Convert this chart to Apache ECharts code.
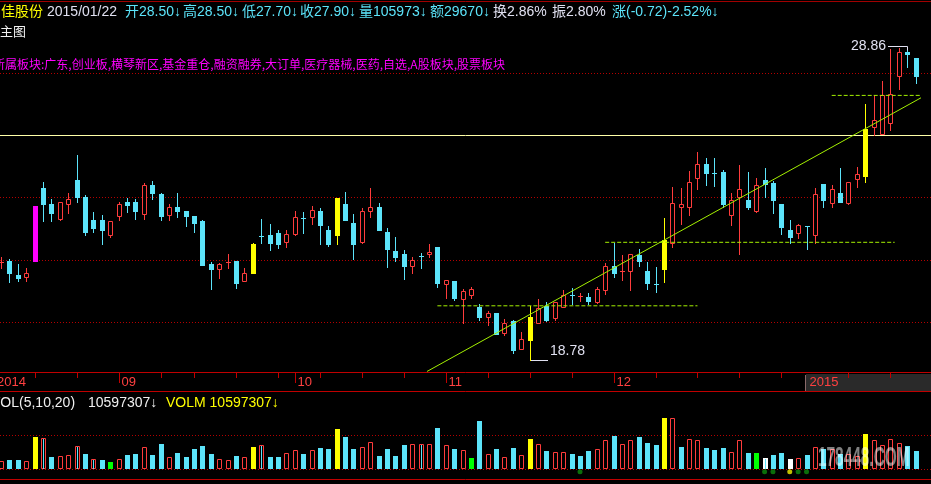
<!DOCTYPE html>
<html><head><meta charset="utf-8">
<script src="https://cdn.jsdelivr.net/npm/echarts/dist/echarts.min.js"></script>
<style>html,body{margin:0;padding:0;background:#000;overflow:hidden}#c{width:931px;height:484px}</style>
</head><body><div id="c"></div>
<script>
// ---------------- data ----------------
const dates = [
'2014-08-12','2014-08-13','2014-08-14','2014-08-15','2014-08-18','2014-08-19','2014-08-20','2014-08-21','2014-08-22','2014-08-25',
'2014-08-26','2014-08-27','2014-08-28','2014-08-29','2014-09-01','2014-09-02','2014-09-03','2014-09-04','2014-09-05','2014-09-09',
'2014-09-10','2014-09-11','2014-09-12','2014-09-15','2014-09-16','2014-09-17','2014-09-18','2014-09-19','2014-09-22','2014-09-23',
'2014-09-24','2014-09-25','2014-09-26','2014-09-29','2014-09-30','2014-10-08','2014-10-09','2014-10-10','2014-10-13','2014-10-14',
'2014-10-15','2014-10-16','2014-10-17','2014-10-20','2014-10-21','2014-10-22','2014-10-23','2014-10-24','2014-10-27','2014-10-28',
'2014-10-29','2014-10-30','2014-10-31','2014-11-03','2014-11-04','2014-11-05','2014-11-06','2014-11-07','2014-11-10','2014-11-11',
'2014-11-12','2014-11-13','2014-11-14','2014-11-17','2014-11-18','2014-11-19','2014-11-20','2014-11-21','2014-11-24','2014-11-25',
'2014-11-26','2014-11-27','2014-11-28','2014-12-01','2014-12-02','2014-12-03','2014-12-04','2014-12-05','2014-12-08','2014-12-09',
'2014-12-10','2014-12-11','2014-12-12','2014-12-15','2014-12-16','2014-12-17','2014-12-18','2014-12-19','2014-12-22','2014-12-23',
'2014-12-24','2014-12-25','2014-12-26','2014-12-29','2014-12-30','2014-12-31','2015-01-05','2015-01-06','2015-01-07','2015-01-08',
'2015-01-09','2015-01-12','2015-01-13','2015-01-14','2015-01-15','2015-01-16','2015-01-19','2015-01-20','2015-01-21','2015-01-22'];

const opens = [21.90,21.98,21.53,21.44,21.98,24.30,23.79,23.33,23.79,24.56,
24.01,23.30,23.30,22.82,23.43,23.88,23.88,23.47,24.40,24.11,
23.46,23.72,23.59,23.40,23.24,21.88,21.72,21.93,21.98,21.33,
21.59,22.77,22.79,22.88,22.59,22.85,23.34,23.37,23.56,22.98,
22.79,23.79,23.20,22.59,23.59,23.69,22.91,22.30,22.20,21.82,
22.14,22.20,22.43,21.24,21.33,20.75,20.88,20.50,20.17,20.30,
19.66,20.04,19.14,19.43,19.98,20.53,20.14,20.50,20.88,20.81,
20.82,20.66,21.04,21.82,21.62,21.66,22.17,21.66,21.24,21.72,
22.56,23.69,23.72,24.63,25.08,24.79,24.82,23.46,24.01,23.92,
23.59,24.56,24.46,23.79,22.98,22.88,23.08,22.79,24.43,23.82,
24.14,23.82,24.59,24.69,26.28,26.05,26.40,27.92,28.70,28.50];

const closes = [21.93,21.57,21.41,21.59,23.75,23.79,23.50,23.85,23.95,24.04,
22.91,23.04,22.95,23.27,23.79,23.77,23.59,24.40,24.14,23.43,
23.69,23.59,23.43,23.20,21.85,21.72,21.88,21.95,21.27,21.59,
22.53,22.75,22.56,22.53,22.85,23.37,23.33,23.62,23.14,22.50,
23.98,23.30,22.53,23.59,23.69,22.98,22.37,22.11,21.82,22.01,
22.13,22.27,21.27,21.37,20.79,21.01,21.08,20.17,20.30,19.62,
19.98,19.11,19.46,20.17,20.46,20.08,20.66,20.88,20.86,20.83,
20.69,21.08,21.82,21.59,21.66,22.21,21.98,21.27,21.23,22.63,
23.82,23.80,24.50,25.08,24.79,24.78,23.79,23.92,24.27,23.69,
24.40,24.43,23.92,23.05,22.75,23.14,23.07,24.11,23.92,24.27,
23.88,24.50,24.75,26.21,26.49,27.30,27.34,28.69,28.62,27.90];

const highs = [22.11,22.03,21.88,21.75,23.75,24.50,23.95,23.85,24.17,25.37,
24.08,23.53,23.46,23.27,23.88,23.98,23.95,24.46,24.53,24.17,
23.79,24.17,23.59,23.43,23.30,21.95,21.91,22.20,21.98,21.75,
22.56,23.33,23.17,22.95,22.98,23.59,23.53,23.75,23.66,23.11,
23.98,24.20,23.49,23.66,24.33,23.82,23.04,22.75,22.33,22.11,
22.24,22.53,22.43,21.37,21.33,21.08,21.14,20.59,20.37,20.30,
20.11,20.07,19.69,20.53,20.75,20.66,20.66,21.04,21.11,20.95,
20.95,21.14,21.91,22.56,22.17,22.21,22.37,21.95,21.79,23.34,
24.34,24.30,24.85,25.46,25.27,25.27,24.88,24.17,25.05,24.82,
24.63,24.95,24.53,23.79,23.30,23.17,23.08,24.30,24.43,24.40,
24.95,24.50,24.98,27.01,27.30,27.75,28.79,28.80,28.86,28.50];

const lows = [21.73,21.28,21.34,21.34,21.98,23.27,23.24,23.30,23.50,23.88,
22.82,22.91,22.53,22.75,23.30,23.53,23.33,23.33,23.95,23.30,
23.30,23.37,23.11,22.91,21.85,21.08,21.43,21.75,21.11,21.33,
21.59,22.56,22.33,22.40,22.43,22.79,22.88,23.17,22.50,22.46,
22.53,23.30,22.04,22.56,23.37,22.98,21.79,21.98,21.40,21.59,
21.75,22.11,21.14,20.79,20.72,19.98,20.79,20.08,19.91,19.62,
19.59,19.01,19.14,18.78,19.98,20.04,20.08,20.50,20.59,20.69,
20.59,20.62,20.91,21.46,21.37,21.04,21.82,21.08,20.98,21.30,
22.43,23.17,23.46,24.27,24.40,24.37,23.69,23.14,22.21,23.63,
23.53,24.01,23.50,22.85,22.56,22.72,22.37,22.56,23.72,23.69,
23.88,23.79,24.34,24.50,26.01,26.05,26.17,27.50,28.21,27.70];

// n = normal, y = yellow signal candle, m = magenta signal candle
const candleKind = dates.map(() => 'n');
const yellowCandles = [30, 40, 63, 79, 103];
const magentaCandles = [4];
yellowCandles.forEach(i => candleKind[i] = 'y');
magentaCandles.forEach(i => candleKind[i] = 'm');

const volumes = [48000,54000,54000,48000,187000,181000,71000,77000,83000,135000,
89000,60000,54000,42000,60000,83000,89000,129000,83000,146000,
71000,94000,71000,118000,135000,89000,60000,54000,77000,71000,
129000,141000,69000,71000,94000,112000,89000,112000,123000,118000,
233000,187000,118000,129000,158000,77000,118000,77000,141000,146000,
146000,146000,239000,141000,118000,112000,65000,280000,89000,118000,
71000,123000,83000,175000,146000,106000,100000,100000,89000,77000,
106000,118000,170000,193000,146000,170000,187000,152000,141000,297000,
297000,129000,175000,170000,123000,112000,123000,100000,170000,94000,
94000,65000,83000,94000,60000,65000,83000,129000,118000,118000,
89000,89000,77000,204000,170000,141000,175000,152000,135000,105973];

// r hollow red, c cyan, rc hollow red + cyan line, y yellow, g green, w white, wc white + cyan line
const volumeKind = ['r','c','c','r','y','rc','c','r','r','rc',
'c','rc','c','g','r','c','c','r','c','c',
'r','c','c','c','c','c','r','r','c','r',
'y','rc','c','c','r','r','c','r','c','c',
'y','c','c','r','r','c','c','c','c','r',
'rc','r','c','r','c','r','g','c','r','c',
'r','c','r','y','r','c','r','r','c','c',
'c','r','r','c','r','r','c','c','c','y',
'r','c','r','r','c','c','c','r','r','c',
'g','wc','c','c','w','r','c','r','c','r',
'c','r','r','y','r','r','r','r','c','c'];

const signalDots = [[69,'g'],[91,'g'],[92,'g'],[94,'y'],[95,'g'],[96,'g']];

const priceGridLevels = [28, 24, 22, 20];
const markedLevel = 26;
const volumeGridLevels = [194500, 0];
const trendLine = [[50.76, 18.42], [110.83, 27.39]];
const supportLines = [
  [[52, 20.53], [83, 20.53]],
  [[72, 22.57], [106.5, 22.57]],
  [[99, 27.29], [110.83, 27.29]]
];
const highMark = {index: 108, price: 28.86, label: '28.86'};
const lowMark = {index: 63, price: 18.78, label: '18.78'};

const headerTexts = [
  {x: 1, t: '佳股份', c: 'yellow'},
  {x: 47, t: '2015/01/22', c: 'lav'},
  {x: 125, t: '开28.50↓', c: 'cyan'},
  {x: 183, t: '高28.50↓', c: 'cyan'},
  {x: 242, t: '低27.70↓', c: 'cyan'},
  {x: 300, t: '收27.90↓', c: 'cyan'},
  {x: 359, t: '量105973↓', c: 'cyan'},
  {x: 430, t: '额29670↓', c: 'cyan'},
  {x: 493, t: '换2.86%', c: 'lav'},
  {x: 552, t: '振2.80%', c: 'lav'},
  {x: 612, t: '涨(-0.72)-2.52%↓', c: 'cyan'}
];
const sectorText = '所属板块:广东,创业板,横琴新区,基金重仓,融资融券,大订单,医疗器械,医药,自选,A股板块,股票板块';
const volTexts = [
  {x: -9, t: 'VOL(5,10,20)', c: 'white'},
  {x: 88, t: '10597307↓', c: 'white'},
  {x: 166, t: 'VOLM 10597307↓', c: 'yellow'}
];

// ---------------- styles ----------------
const RED = '#ff3c3c', CYAN = '#5ce4fa', YELLOW = '#ffff00', MAGENTA = '#ff00ff',
      GREEN = '#00ff00', WHITE = '#ffffff', LAV = '#e0e0f0', AXRED = '#c00000',
      GRIDRED = '#b40000', LIME = '#a4f000';
const colorMap = {yellow: YELLOW, lav: LAV, cyan: CYAN, white: '#f0f0f0'};
const FONT14 = '14px "Liberation Sans", "Noto Sans CJK SC", sans-serif';
const FONT13 = '13px "Liberation Sans", "Noto Sans CJK SC", sans-serif';

// week / month ticks derived from dates
const parsed = dates.map(d => new Date(d + 'T00:00:00Z'));
const monthStart = [], weekStart = [];
for (let i = 1; i < dates.length; i++) {
  const a = parsed[i - 1], b = parsed[i];
  if (a.getUTCMonth() !== b.getUTCMonth()) monthStart.push(i);
  else if (b.getUTCDay() <= a.getUTCDay() || (b - a) > 3 * 86400000) weekStart.push(i);
}
function dateLabel(i) {
  if (i === 0 || parsed[i].getUTCFullYear() !== parsed[i - 1].getUTCFullYear()) return String(parsed[i].getUTCFullYear());
  return String(parsed[i].getUTCMonth() + 1).padStart(2, '0');
}

// ---------------- chart ----------------
const chart = echarts.init(document.getElementById('c'));

function renderCandle(params, api) {
  const i = api.value(0), o = api.value(1), c = api.value(2), l = api.value(3), h = api.value(4);
  const kind = candleKind[i];
  const pH = api.coord([i, h]);
  const X = Math.round(pH[0]);
  const yH = Math.round(pH[1]);
  const yL = Math.round(api.coord([i, l])[1]);
  const yO = Math.round(api.coord([i, o])[1]);
  const yC = Math.round(api.coord([i, c])[1]);
  const yT = Math.min(yO, yC), yB = Math.max(yO, yC);
  const up = c >= o;
  const color = kind === 'y' ? YELLOW : kind === 'm' ? MAGENTA : (up ? RED : CYAN);
  const hollow = kind === 'n' && up;
  const wx = X + 0.5;
  const ch = [];
  const seg = (x1, y1, x2, y2) => ch.push({type: 'line', shape: {x1, y1, x2, y2}, style: {stroke: color, lineWidth: 1}});
  if (yB - yT <= 1) {
    if (yL > yH) seg(wx, yH, wx, yL + 1);
    seg(X - 2, yT + 0.5, X + 3, yT + 0.5);
  } else if (hollow) {
    if (yH < yT) seg(wx, yH, wx, yT);
    if (yL > yB) seg(wx, yB + 1, wx, yL + 1);
    ch.push({type: 'rect', shape: {x: X - 1.5, y: yT + 0.5, width: 4, height: yB - yT}, style: {stroke: color, fill: '#000', lineWidth: 1}});
  } else {
    if (yL > yH) seg(wx, yH, wx, yL + 1);
    ch.push({type: 'rect', shape: {x: X - 2, y: yT, width: 5, height: yB - yT + 1}, style: {fill: color}});
  }
  return {type: 'group', children: ch};
}

function renderVol(params, api) {
  const i = api.value(0), v = api.value(1);
  const p = api.coord([i, v]), b = api.coord([i, 0]);
  const X = Math.round(p[0]), yT = Math.round(p[1]), yB = Math.floor(b[1]);
  const k = volumeKind[i];
  const ch = [];
  if (k === 'r' || k === 'rc') {
    ch.push({type: 'rect', shape: {x: X - 1.5, y: yT + 0.5, width: 4, height: yB - yT - 1}, style: {stroke: RED, fill: '#000', lineWidth: 1}});
  } else {
    const fill = {c: CYAN, y: YELLOW, g: GREEN, w: WHITE, wc: WHITE}[k];
    ch.push({type: 'rect', shape: {x: X - 2, y: yT, width: 5, height: yB - yT}, style: {fill}});
  }
  if (k === 'rc' || k === 'wc') {
    ch.push({type: 'line', shape: {x1: X + 0.5, y1: yT + 1, x2: X + 0.5, y2: yB}, style: {stroke: CYAN, lineWidth: 1}});
  }
  return {type: 'group', children: ch};
}

const gridLeft = -3.1, gridRight = 11.2;
const option = {
  backgroundColor: '#000',
  animation: false,
  grid: [
    {left: gridLeft, right: gridRight, top: 11.05, bottom: 111.9, containLabel: false, outerBoundsMode: 'none', show: false},
    {left: gridLeft, right: gridRight, top: 417.5, bottom: 14.7, containLabel: false, outerBoundsMode: 'none', show: false}
  ],
  xAxis: [
    {type: 'category', gridIndex: 0, data: dates, boundaryGap: true, show: false},
    {type: 'value', gridIndex: 0, min: -0.5, max: dates.length - 0.5, show: false},
    {type: 'category', gridIndex: 1, data: dates, boundaryGap: true, show: false}
  ],
  yAxis: [
    {type: 'value', gridIndex: 0, min: 18.4, max: 30, show: false, splitLine: {show: false}},
    {type: 'value', gridIndex: 1, min: 0, max: 300000, show: false, splitLine: {show: false}}
  ],
  series: [
    {
      type: 'custom', name: 'K', xAxisIndex: 0, yAxisIndex: 0, z: 3, silent: true,
      renderItem: renderCandle,
      encode: {x: 0, y: [1, 2, 3, 4]},
      data: dates.map((d, i) => [i, opens[i], closes[i], lows[i], highs[i]])
    },
    {
      type: 'custom', name: 'VOL', xAxisIndex: 2, yAxisIndex: 1, z: 3, silent: true,
      renderItem: renderVol,
      encode: {x: 0, y: 1},
      data: volumes.map((v, i) => [i, v])
    },
    {
      type: 'line', xAxisIndex: 1, yAxisIndex: 0, z: 4, silent: true, clip: false,
      symbol: 'none', lineStyle: {color: LIME, width: 1},
      data: trendLine
    },
    ...supportLines.map(seg => ({
      type: 'line', xAxisIndex: 1, yAxisIndex: 0, z: 4, silent: true, clip: false,
      symbol: 'none', lineStyle: {color: LIME, width: 1, type: [4, 2]},
      data: seg
    })),
    {
      type: 'scatter', xAxisIndex: 2, yAxisIndex: 1, z: 5, silent: true, clip: false,
      symbol: 'circle', symbolSize: 5, symbolOffset: [0, 2.5],
      data: signalDots.map(([i, k]) => ({value: [i, 0], itemStyle: {color: k === 'y' ? '#f0f000' : '#0c8a0c'}}))
    }
  ]
};
chart.setOption(option);

// ---------------- overlay graphics (positions via chart scales) ----------------
const W = 931;
const g = [];
const xAt = i => chart.convertToPixel({xAxisIndex: 1}, i);
const yP = p => chart.convertToPixel({yAxisIndex: 0}, p);
const yV = v => chart.convertToPixel({yAxisIndex: 1}, v);
function line(x1, y1, x2, y2, color, dash, z) {
  g.push({type: 'line', silent: true, z: z || 0, shape: {x1, y1, x2, y2}, style: {stroke: color, lineWidth: 1, lineDash: dash || null}});
}
function text(x, y, t, color, font, align, valign, z) {
  g.push({type: 'text', silent: true, z: z || 10, x, y, style: {text: t, fill: color, font, textAlign: align || 'left', textVerticalAlign: valign || 'middle'}});
}

// frame lines
line(0, 1.5, W, 1.5, '#a00000');
priceGridLevels.forEach(p => { const y = Math.floor(yP(p)) + 0.5; line(0, y, W, y, GRIDRED, [1, 2]); });
{ const y = Math.floor(yP(markedLevel)) + 0.5; line(0, y, W, y, '#ffffa8'); }

// date axis band
const bandTop = 372.5, bandBot = 391.5;
const boxStart = Math.round(xAt(monthStart[monthStart.length - 1])) - 1;
g.push({type: 'rect', silent: true, z: 0, shape: {x: boxStart, y: 374, width: W - boxStart, height: 17}, style: {fill: '#2a2a2a'}});
line(boxStart - 0.5, 375, boxStart - 0.5, 391, '#8a6a6a', null, 1);
line(0, bandTop, W, bandTop, AXRED, null, 1);
line(0, bandBot, W, bandBot, AXRED, null, 1);
weekStart.forEach(i => { const x = Math.round(xAt(i)) + 0.5; line(x, 372, x, 378, AXRED, null, 1); });
monthStart.forEach((i, k) => {
  if (k === monthStart.length - 1) return;
  const x = Math.round(xAt(i)) + 0.5; line(x, 372, x, 383, AXRED, null, 1);
});
[0, ...monthStart].forEach(i => {
  const x = i === 0 ? -3 : Math.round(xAt(i)) + 2.5;
  text(x, 382, dateLabel(i), '#ff4040', FONT13, 'left', 'middle');
});

// volume pane lines
volumeGridLevels.forEach(v => { const y = Math.floor(yV(v)) + 0.5; line(0, y, W, y, GRIDRED, [1, 2]); });
line(0, 479.5, W, 479.5, AXRED);

// texts
headerTexts.forEach(h => text(h.x, 12, h.t, colorMap[h.c], FONT14));
text(0, 31, '主图', '#f0f0f0', '13px "Noto Sans CJK SC", sans-serif');
text(-7, 64, sectorText, MAGENTA, '12px "Noto Sans CJK SC", sans-serif');
volTexts.forEach(h => text(h.x, 403, h.t, colorMap[h.c], FONT14));

// high / low marks
{
  const X = Math.round(xAt(highMark.index));
  const y = Math.floor(yP(highMark.price)) + 0.5;
  line(X - 19, y, X + 0.5, y, LAV, null, 6);
  line(X + 0.5, y, X + 0.5, y + 4, LAV, null, 6);
  text(X - 21, y, highMark.label, LAV, FONT14, 'right', 'middle');
}
{
  const X = Math.round(xAt(lowMark.index));
  const y = Math.floor(yP(lowMark.price)) + 0.5;
  line(X + 1, y, X + 18, y, LAV, null, 6);
  text(X + 20, y - 2, lowMark.label, LAV, FONT14, 'left', 'bottom');
}

// watermark
g.push({type: 'text', silent: true, z: 20, x: 818, y: 459, scaleX: 0.57,
  style: {text: '178448.COM', fill: 'rgba(255,255,255,0.5)', font: 'bold 27px "Liberation Sans", sans-serif', textVerticalAlign: 'middle'}});

chart.setOption({graphic: {elements: g}});
</script>
</body></html>
